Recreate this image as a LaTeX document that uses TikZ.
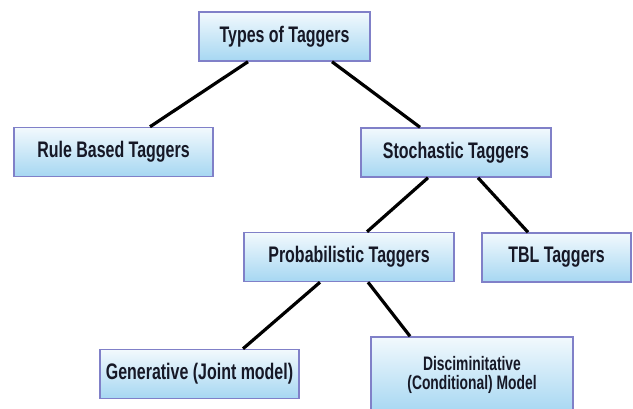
\documentclass[tikz,border=0pt]{standalone}
\usepackage{fontspec}
\newfontfamily\taggerfont{Liberation Sans}[FakeStretch=0.71]
\definecolor{tborder}{RGB}{128,128,200}
\definecolor{ttop}{RGB}{242,249,253}
\definecolor{tbottom}{RGB}{166,215,242}
\definecolor{ttext}{RGB}{22,24,38}

\begin{document}
\begin{tikzpicture}[x=1pt,y=-1pt,
  tagger/.style={draw=tborder, line width=1.5pt, top color=ttop, bottom color=tbottom,
    text=ttext, font=\taggerfont\bfseries\fontsize{22.5}{24}\selectfont,
    minimum height=49pt, inner sep=0pt, align=center},
  link/.style={line width=3.2pt, black}]
\useasboundingbox (0,0) rectangle (633,409);

%boxes:
 \node[tagger, minimum width=171pt] (types) at (284.5,36.5) {Types of Taggers};
 \node[tagger, minimum width=199pt] (rule) at (113.5,152) {Rule Based Taggers};
 \node[tagger, minimum width=190pt] (stoch) at (456,152.5) {Stochastic Taggers};
 \node[tagger, minimum width=210pt] (prob) at (349,257) {Probabilistic Taggers};
 \node[tagger, minimum width=149pt] (tbl) at (556.5,257.5) {TBL Taggers};
 \node[tagger, minimum width=199pt] (gen) at (199.5,374) {Generative (Joint model)};
 \node[tagger, minimum width=202pt, minimum height=76pt,
   font=\taggerfont\bfseries\fontsize{19.5}{19.5}\selectfont] (disc) at (472,375)
   {Disciminitative\\(Conditional) Model};

%links:
 \draw[link] ([xshift=-36.5pt]types.south) -- ([xshift=36.5pt]rule.north);
 \draw[link] ([xshift=47.5pt]types.south) -- ([xshift=-36pt]stoch.north);
 \draw[link] ([xshift=-28pt]stoch.south) -- ([xshift=18pt]prob.north);
 \draw[link] ([xshift=22pt]stoch.south) -- ([xshift=-28.5pt]tbl.north);
 \draw[link] ([xshift=-29pt]prob.south) -- ([xshift=43.5pt]gen.north);
 \draw[link] ([xshift=19pt]prob.south) -- ([xshift=-62pt]disc.north);
\end{tikzpicture}
\end{document}
